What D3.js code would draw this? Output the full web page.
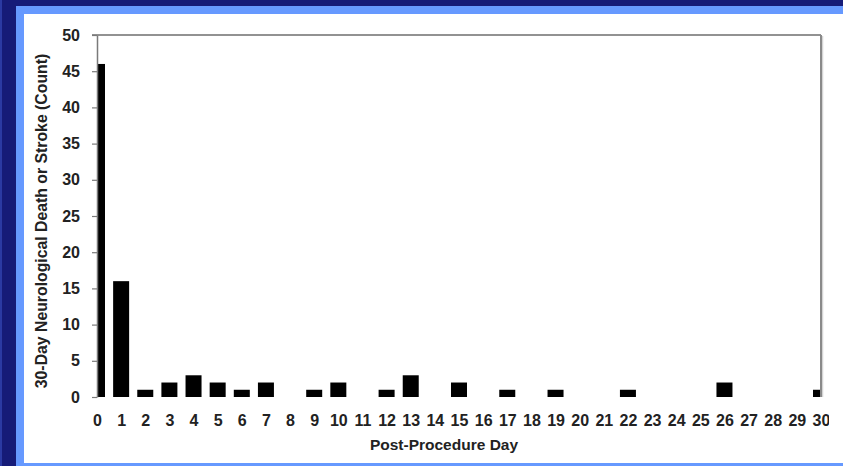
<!DOCTYPE html>
<html>
<head>
<meta charset="utf-8">
<script src="https://cdn.jsdelivr.net/npm/d3@7"></script>
<style>
  html, body { margin: 0; padding: 0; background: #161b78; }
  svg { display: block; }
  text { font-family: "Liberation Sans", Arial, sans-serif; font-weight: bold; fill: #222; }
</style>
</head>
<body>
<svg id="chart" width="843" height="466"></svg>
<script>
// Post-procedure day of each 30-day neurological death or stroke event
const days = d3.range(0, 31);
const counts = [46, 16, 1, 2, 3, 2, 1, 2, 0, 1, 2, 0, 1, 3, 0, 2, 0, 1, 0, 1, 0, 0, 1, 0, 0, 0, 2, 0, 0, 0, 1];
const yTicks = [0, 5, 10, 15, 20, 25, 30, 35, 40, 45, 50];
const xTitle = "Post-Procedure Day";
const yTitle = "30-Day Neurological Death or Stroke (Count)";

const svg = d3.select("#chart");
const W = 843, H = 466;

// Slide frame: navy edge, light blue band, white panel
svg.append("rect").attr("x", 0).attr("y", 0).attr("width", W).attr("height", H).attr("fill", "#161b78");
svg.append("rect").attr("x", 0).attr("y", 0).attr("width", 2).attr("height", H).attr("fill", "#2b3aa3");
svg.append("rect").attr("x", 16).attr("y", 6).attr("width", W - 16).attr("height", H - 6).attr("fill", "#6699ff");
svg.append("rect").attr("x", 24).attr("y", 14).attr("width", W - 24).attr("height", H - 17).attr("fill", "#ffffff");

const plotL = 97, plotR = 821, plotT = 35, plotB = 397;
const x = d3.scaleLinear().domain([0, 30]).range([plotL, plotR]);
const y = d3.scaleLinear().domain([0, 50]).range([plotB, plotT]);
const barW = 16;

svg.append("clipPath").attr("id", "plot")
  .append("rect").attr("x", plotL).attr("y", plotT).attr("width", plotR - plotL).attr("height", plotB - plotT);
svg.append("clipPath").attr("id", "labels")
  .append("rect").attr("x", 24).attr("y", 14).attr("width", 829 - 24).attr("height", H - 17);

// Bars
svg.append("g").attr("clip-path", "url(#plot)")
  .selectAll("rect").data(days.filter((d, i) => counts[i] > 0)).join("rect")
  .attr("x", d => x(d) - barW / 2)
  .attr("width", barW)
  .attr("y", d => y(counts[d]))
  .attr("height", d => plotB - y(counts[d]))
  .attr("fill", "#000");

// Plot frame top and right edges
svg.append("line").attr("x1", plotL - 5).attr("x2", plotR).attr("y1", plotT).attr("y2", plotT)
  .attr("stroke", "#6e6e6e").attr("stroke-width", 1.3);
svg.append("line").attr("x1", plotR + 1.5).attr("x2", plotR + 1.5).attr("y1", plotT + 1).attr("y2", plotB)
  .attr("stroke", "#d4d4d4").attr("stroke-width", 1.5);
svg.append("line").attr("x1", plotR).attr("x2", plotR).attr("y1", plotT).attr("y2", plotB)
  .attr("stroke", "#8a8a8a").attr("stroke-width", 2);

// Y axis
const yAxis = svg.append("g").attr("transform", `translate(${plotL},0)`)
  .call(d3.axisLeft(y).tickValues(yTicks).tickSize(5).tickPadding(12).tickSizeOuter(0));
yAxis.select(".domain").attr("stroke", "#7a7a7a").attr("stroke-width", 1.5);
yAxis.selectAll(".tick line").attr("stroke", "#7a7a7a").attr("stroke-width", 1.2);
yAxis.selectAll("text").attr("font-size", 16).attr("fill", "#222")
  .attr("font-family", "Liberation Sans, Arial, sans-serif").attr("font-weight", "bold");

// X axis
const xAxis = svg.append("g").attr("transform", `translate(0,${plotB})`).attr("clip-path", "url(#labels)")
  .call(d3.axisBottom(x).tickValues(days).tickFormat(d3.format("d")).tickSize(4).tickPadding(14).tickSizeOuter(0));
xAxis.select(".domain").attr("stroke", "#7a7a7a").attr("stroke-width", 1.5);
xAxis.selectAll(".tick line").attr("stroke", "#7a7a7a").attr("stroke-width", 1.2);
xAxis.selectAll("text").attr("font-size", 16).attr("fill", "#222")
  .attr("font-family", "Liberation Sans, Arial, sans-serif").attr("font-weight", "bold");

// Axis titles
svg.append("text").attr("x", 444).attr("y", 450).attr("text-anchor", "middle")
  .attr("font-size", 15.5).text(xTitle);
svg.append("text").attr("transform", "translate(47,221) rotate(-90)").attr("text-anchor", "middle")
  .attr("font-size", 15.8).text(yTitle);
</script>
</body>
</html>
